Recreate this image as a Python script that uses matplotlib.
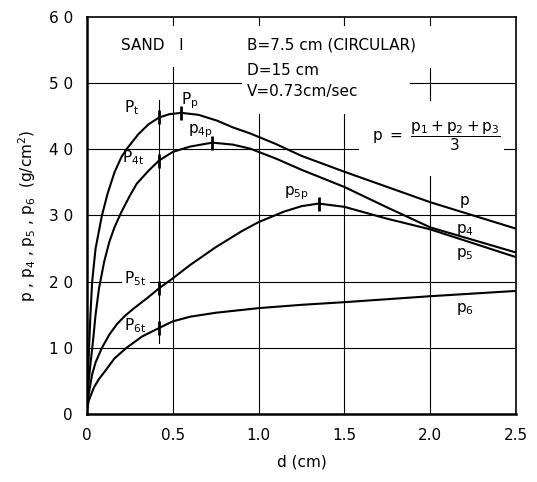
import matplotlib.pyplot as plt

# values
d_p = [0, 0.005, 0.012, 0.02, 0.03, 0.05, 0.087, 0.12, 0.16, 0.2, 0.23, 0.3, 0.36, 0.42, 0.48, 0.55, 0.65,
       0.76, 0.85, 0.95, 1.1, 1.25, 1.5, 1.75, 2.0, 2.25, 2.5]
p = [1.0, 5.0, 10.0, 15.0, 20.0, 25.0, 30.0, 33.3, 36.5, 38.8, 40.0, 42.3, 43.8, 44.8, 45.3, 45.5, 45.2,
     44.3, 43.3, 42.4, 40.8, 39.0, 36.6, 34.3, 32.0, 30.0, 28.0]

d_p4 = [0, 0.01, 0.02, 0.035, 0.05, 0.07, 0.1, 0.13, 0.16, 0.2, 0.25, 0.29, 0.36, 0.42, 0.5, 0.6, 0.73, 0.85,
        0.95, 1.1, 1.25, 1.5, 1.75, 2.0, 2.25, 2.5]
p4 = [1.0, 5.0, 7.5, 11.0, 15.0, 19.0, 23.0, 26.0, 28.2, 30.5, 33.0, 34.8, 36.8, 38.3, 39.6, 40.4, 41.0, 40.7,
      40.1, 38.6, 36.9, 34.3, 31.2, 28.2, 26.3, 24.4]

d_p5 = [0, 0.01, 0.03, 0.05, 0.087, 0.13, 0.175, 0.22, 0.27, 0.35, 0.42, 0.5, 0.6, 0.75, 0.9, 1.0, 1.15, 1.25,
        1.35, 1.5, 1.75, 2.0, 2.25, 2.5]
p5 = [0.5, 3.0, 6.0, 7.8, 10.0, 12.0, 13.6, 14.8, 15.9, 17.5, 19.0, 20.5, 22.5, 25.2, 27.6, 29.0, 30.6, 31.4,
      31.8, 31.3, 29.5, 27.9, 25.8, 23.7]

d_p6 = [0, 0.01, 0.04, 0.07, 0.1, 0.16, 0.23, 0.32, 0.42, 0.5, 0.6, 0.75, 1.0, 1.25, 1.5, 2.0, 2.5]
p6 = [0.5, 2.0, 4.0, 5.3, 6.3, 8.4, 10.0, 11.7, 13.0, 14.0, 14.7, 15.3, 16.0, 16.5, 16.9, 17.8, 18.6]

# marked points (x, y)
mark_x = [0.42, 0.55, 0.42, 0.73, 0.42, 1.35, 0.42]
mark_y = [44.8, 45.5, 38.3, 41.0, 19.0, 31.8, 13.0]

x_ticks = [0, 0.5, 1.0, 1.5, 2.0, 2.5]
x_tick_labels = ['0', '0.5', '1.0', '1.5', '2.0', '2.5']
y_ticks = [0, 10, 20, 30, 40, 50, 60]
y_tick_labels = ['0', '1 0', '2 0', '3 0', '4 0', '5 0', '6 0']

plt.rcParams['font.family'] = ['DejaVu Sans']

fig = plt.figure(figsize=(5.37, 4.82), dpi=100)
ax = fig.add_axes([0.162, 0.141, 0.799, 0.824])
ax.set_xlim(0, 2.5)
ax.set_ylim(0, 60)

# broken grid lines (gaps behind the annotations)
gc = dict(color='black', lw=0.8, zorder=1)
ax.axhline(10, **gc)
ax.axhline(20, xmin=0, xmax=0.2 / 2.5, **gc)
ax.axhline(20, xmin=0.37 / 2.5, xmax=1, **gc)
ax.axhline(30, **gc)
ax.axhline(40, xmin=0, xmax=1.58 / 2.5, **gc)
ax.axhline(40, xmin=2.43 / 2.5, xmax=1, **gc)
ax.axhline(50, xmin=0, xmax=0.9 / 2.5, **gc)
ax.axhline(50, xmin=1.88 / 2.5, xmax=1, **gc)
ax.axvline(0.5, ymin=0, ymax=52.5 / 60, **gc)
ax.axvline(1.0, ymin=0, ymax=45.4 / 60, **gc)
ax.axvline(1.5, ymin=0, ymax=45.4 / 60, **gc)
ax.axvline(2.0, ymin=0, ymax=36 / 60, **gc)
ax.axvline(2.0, ymin=47.4 / 60, ymax=52.3 / 60, **gc)
for xv in [0.5, 1.0, 1.5, 2.0]:
    ax.axvline(xv, ymin=58.8 / 60, ymax=1, **gc)

# thin line through the "t" points
ax.plot([0.42, 0.42], [10.7, 47.4], color='black', lw=0.8, zorder=1)

ax.plot(d_p, p, color='black', lw=1.5)
ax.plot(d_p4, p4, color='black', lw=1.5)
ax.plot(d_p5, p5, color='black', lw=1.5)
ax.plot(d_p6, p6, color='black', lw=1.5)
ax.plot(mark_x, mark_y, ls='', marker='|', ms=10, mew=2, color='black')

fs = 11
ax.text(0.2, 55.7, 'SAND   I', fontsize=fs, va='center')
ax.text(0.93, 55.7, 'B=7.5 cm (CIRCULAR)', fontsize=fs, va='center')
ax.text(0.93, 51.9, 'D=15 cm', fontsize=fs, va='center')
ax.text(0.93, 48.7, 'V=0.73cm/sec', fontsize=fs, va='center')
ax.text(1.66, 42.0, r'$\mathrm{p}\ =\ \dfrac{\mathrm{p}_1+\mathrm{p}_2+\mathrm{p}_3}{3}$',
        fontsize=fs, va='center')

ax.text(0.26, 44.8, r'$\mathrm{P_t}$', fontsize=fs, va='bottom', ha='center')
ax.text(0.6, 45.8, r'$\mathrm{P_p}$', fontsize=fs, va='bottom', ha='center')
ax.text(0.66, 41.4, r'$\mathrm{p_{4p}}$', fontsize=fs, va='bottom', ha='center')
ax.text(0.27, 37.3, r'$\mathrm{P_{4t}}$', fontsize=fs, va='bottom', ha='center')
ax.text(0.28, 19.0, r'$\mathrm{P_{5t}}$', fontsize=fs, va='bottom', ha='center')
ax.text(0.28, 12.0, r'$\mathrm{P_{6t}}$', fontsize=fs, va='bottom', ha='center')
ax.text(1.22, 32.0, r'$\mathrm{p_{5p}}$', fontsize=fs, va='bottom', ha='center')
ax.text(2.2, 32.0, r'$\mathrm{p}$', fontsize=fs, va='center', ha='center')
ax.text(2.2, 27.8, r'$\mathrm{p_4}$', fontsize=fs, va='center', ha='center')
ax.text(2.2, 24.2, r'$\mathrm{p_5}$', fontsize=fs, va='center', ha='center')
ax.text(2.2, 15.9, r'$\mathrm{p_6}$', fontsize=fs, va='center', ha='center')

ax.set_xticks(x_ticks)
ax.set_xticklabels(x_tick_labels, fontsize=fs)
ax.set_yticks(y_ticks)
ax.set_yticklabels(y_tick_labels, fontsize=fs)
ax.tick_params(length=0, pad=10)
ax.set_xlabel('d (cm)', fontsize=fs, labelpad=8)
ax.set_ylabel(r'p , p$_4$ , p$_5$ , p$_6$  (g/cm$^2$)', fontsize=fs, labelpad=8)
for s in ax.spines.values():
    s.set_linewidth(1.2)
ax.spines['left'].set_linewidth(1.8)
ax.spines['bottom'].set_linewidth(1.8)

plt.savefig('out.png', dpi=100)
plt.close()
